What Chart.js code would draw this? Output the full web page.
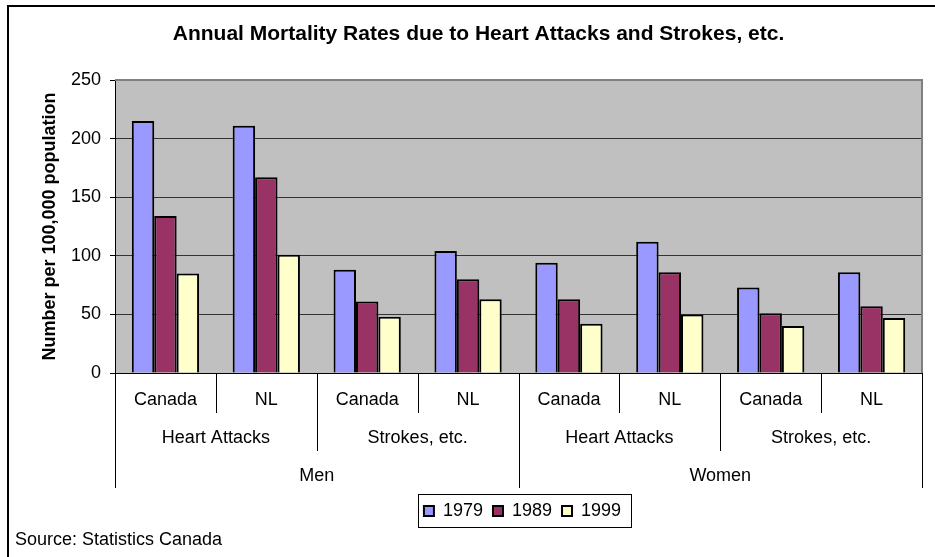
<!DOCTYPE html>
<html>
<head>
<meta charset="utf-8">
<title>Annual Mortality Rates due to Heart Attacks and Strokes, etc.</title>
<script src="https://cdn.jsdelivr.net/npm/chart.js@4.4.0/dist/chart.umd.min.js"></script>
<style>
  body { margin: 0; background: #fff; }
  #wrap { width: 935px; height: 557px; }
</style>
</head>
<body>
<div id="wrap"><canvas id="chart" width="935" height="557"></canvas></div>
<script>
// Data
const categories = ['Canada', 'NL', 'Canada', 'NL', 'Canada', 'NL', 'Canada', 'NL'];
const causes = ['Heart Attacks', 'Strokes, etc.', 'Heart Attacks', 'Strokes, etc.'];
const sexes = ['Men', 'Women'];
const years = ['1979', '1989', '1999'];
const rates1979 = [215, 211, 88, 104, 94, 112, 73, 86];
const rates1989 = [134, 167, 61, 80, 63, 86, 51, 57];
const rates1999 = [85, 101, 48, 63, 42, 50, 40, 47];
const yTicks = [0, 50, 100, 150, 200, 250];
const sourceNote = 'Source: Statistics Canada';

const FONT = "'Liberation Sans', Arial, sans-serif";
Chart.defaults.font.family = FONT;
Chart.defaults.color = '#000';

// Gray plot area, outer frame, multi-level category axis, legend box and source line
const excelLook = {
    id: 'excelLook',
    beforeDraw(chart) {
        const { ctx, chartArea: a } = chart;
        ctx.save();
        ctx.fillStyle = '#fff';
        ctx.fillRect(0, 0, chart.width, chart.height);
        ctx.fillStyle = '#C0C0C0';
        ctx.fillRect(a.left, a.top, a.right - a.left, a.bottom - a.top);
        ctx.restore();
    },
    afterLayout(chart) {
        // the legend sits under the plot centre, not the canvas centre
        chart.legend.left += 44;
        chart.legend.right += 44;
    },
    afterDraw(chart) {
        const { ctx, chartArea: a } = chart;
        const x = chart.scales.x;
        const step = x.width / categories.length;
        const edge = i => x.getPixelForValue(0) - step / 2 + i * step;

        ctx.save();
        // outer frame
        ctx.strokeStyle = '#000';
        ctx.lineWidth = 2;
        ctx.beginPath();
        ctx.moveTo(8, chart.height);
        ctx.lineTo(8, 6);
        ctx.lineTo(chart.width, 6);
        ctx.stroke();

        // plot border (top and right)
        ctx.strokeStyle = '#808080';
        ctx.beginPath();
        ctx.moveTo(a.left, a.top);
        ctx.lineTo(a.right, a.top);
        ctx.lineTo(a.right, a.bottom);
        ctx.stroke();

        // separators of the category levels
        ctx.strokeStyle = '#000';
        ctx.lineWidth = 1;
        for (let k = 0; k <= categories.length; k++) {
            const len = k % 4 === 0 ? 115 : (k % 2 === 0 ? 78 : 40);
            const px = Math.round(edge(k)) + 0.5;
            ctx.beginPath();
            ctx.moveTo(px, a.bottom);
            ctx.lineTo(px, a.bottom + len);
            ctx.stroke();
        }

        ctx.fillStyle = '#000';
        ctx.font = '18px ' + FONT;
        ctx.textAlign = 'center';
        ctx.textBaseline = 'middle';
        causes.forEach((c, g) => {
            ctx.fillText(c, (edge(2 * g) + edge(2 * g + 2)) / 2, a.bottom + 65);
        });
        sexes.forEach((s, g) => {
            ctx.fillText(s, (edge(4 * g) + edge(4 * g + 4)) / 2, a.bottom + 103);
        });

        // source line
        ctx.textAlign = 'left';
        ctx.fillText(sourceNote, 15, 540);

        // legend box
        const hb = chart.legend.legendHitBoxes;
        if (hb && hb.length) {
            const last = hb[hb.length - 1];
            const cy = hb[0].top + hb[0].height / 2;
            const l = Math.round(hb[0].left - 6) + 0.5;
            const r = Math.round(last.left + last.width + 10) + 0.5;
            ctx.strokeStyle = '#000';
            ctx.strokeRect(l, Math.round(cy - 17) + 0.5, r - l, 33);
        }
        ctx.restore();
    }
};

const barStyle = { borderColor: '#000', borderWidth: 2 };

new Chart(document.getElementById('chart'), {
    type: 'bar',
    data: {
        labels: categories,
        datasets: [
            { label: years[0], data: rates1979, backgroundColor: '#9999FF', ...barStyle },
            { label: years[1], data: rates1989, backgroundColor: '#993366', ...barStyle },
            { label: years[2], data: rates1999, backgroundColor: '#FFFFCC', ...barStyle }
        ]
    },
    options: {
        responsive: false,
        animation: false,
        layout: { padding: { top: 0, right: 13, bottom: 27, left: 35 } },
        datasets: {
            bar: { categoryPercentage: 3 / 4.5, barPercentage: 1 }
        },
        plugins: {
            title: {
                display: true,
                text: 'Annual Mortality Rates due to Heart Attacks and Strokes, etc.',
                font: { size: 21, weight: 'bold' },
                color: '#000',
                padding: { top: 22, bottom: 32.8 }
            },
            legend: {
                position: 'bottom',
                labels: {
                    font: { size: 18 },
                    color: '#000',
                    boxWidth: 10,
                    boxHeight: 10,
                    padding: 10
                }
            },
            tooltip: { enabled: false }
        },
        scales: {
            x: {
                grid: { display: false, drawTicks: false },
                border: { display: true, color: '#000', width: 1 },
                ticks: { font: { size: 18 }, color: '#000', padding: 16, autoSkip: false, maxRotation: 0 },
                afterFit(s) { s.height = 119; }
            },
            y: {
                min: yTicks[0],
                max: yTicks[yTicks.length - 1],
                ticks: { stepSize: yTicks[1] - yTicks[0], font: { size: 18 }, color: '#000', padding: 9 },
                grid: { color: '#333', tickColor: '#000', tickLength: 5, lineWidth: 1 },
                border: { display: true, color: '#000', width: 1 },
                title: {
                    display: true,
                    text: 'Number per 100,000 population',
                    font: { size: 18, weight: 'bold' },
                    color: '#000',
                    padding: { top: 4, bottom: 0 }
                },
                afterFit(s) { s.width = 80; }
            }
        }
    },
    plugins: [excelLook]
});
</script>
</body>
</html>
